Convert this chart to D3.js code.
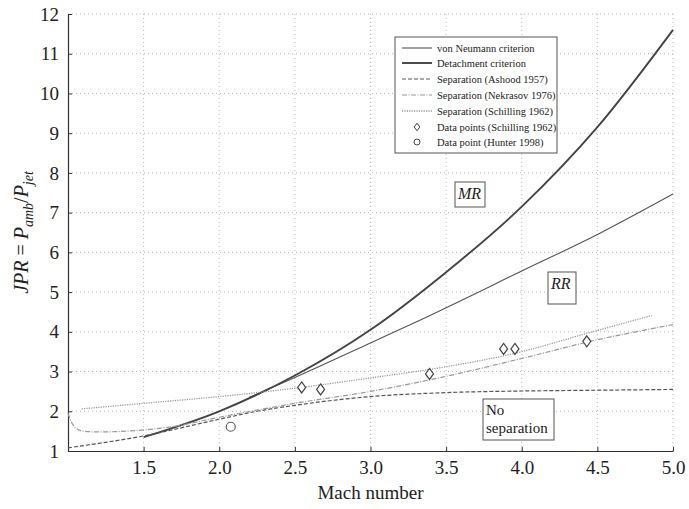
<!DOCTYPE html>
<html>
<head>
<meta charset="utf-8">
<script src="https://cdn.jsdelivr.net/npm/d3@7"></script>
<style>
  body { margin: 0; background: #fff; }
  svg text { font-family: "Liberation Serif", "Times New Roman", Times, "DejaVu Serif", serif !important; }
</style>
</head>
<body>
<svg id="chart" width="689" height="509"></svg>
<script>
// Curve data (Mach number, JPR)
const vonNeumannX = [2.2, 2.5, 3.0, 3.33, 4.0, 4.52, 5.0];
const vonNeumannY = [2.35, 2.85, 3.72, 4.30, 5.53, 6.49, 7.47];

const detachmentX = [1.5, 2.0, 2.5, 3.0, 3.5, 4.0, 4.5, 5.0];
const detachmentY = [1.35, 2.0, 2.9, 4.05, 5.5, 7.15, 9.15, 11.6];

const ashoodX = [1.0, 1.5, 2.0, 2.25, 2.5, 3.0, 3.5, 4.0, 4.5, 5.0];
const ashoodY = [1.08, 1.38, 1.8, 2.0, 2.15, 2.37, 2.47, 2.51, 2.53, 2.55];

const nekrasovX = [1.0, 1.02, 1.05, 1.1, 1.2, 1.5, 1.7, 2.0, 2.25, 2.5, 3.0, 3.5, 4.0, 4.5, 5.0];
const nekrasovY = [1.95, 1.75, 1.58, 1.5, 1.48, 1.53, 1.62, 1.85, 2.03, 2.2, 2.5, 2.88, 3.33, 3.8, 4.18];

const schillingX = [1.09, 1.5, 2.0, 2.5, 3.0, 3.5, 4.0, 4.43, 4.86];
const schillingY = [2.06, 2.2, 2.37, 2.58, 2.84, 3.12, 3.5, 3.96, 4.41];

const schillingPtsX = [2.545, 2.67, 3.39, 3.88, 3.955, 4.43];
const schillingPtsY = [2.60, 2.55, 2.94, 3.57, 3.57, 3.76];

const hunterPtsX = [2.076];
const hunterPtsY = [1.61];

const xTicks = [1.5, 2.0, 2.5, 3.0, 3.5, 4.0, 4.5, 5.0];
const yTicks = [1, 2, 3, 4, 5, 6, 7, 8, 9, 10, 11, 12];

const legendLabels = [
  "von Neumann criterion",
  "Detachment criterion",
  "Separation (Ashood 1957)",
  "Separation (Nekrasov 1976)",
  "Separation (Schilling 1962)",
  "Data points (Schilling 1962)",
  "Data point (Hunter 1998)"
];

// layout
const svg = d3.select("#chart");
const margin = { left: 68, right: 16, top: 14, bottom: 58 };
const W = 689, H = 509;

const x = d3.scaleLinear().domain([1, 5]).range([margin.left, W - margin.right]);
const y = d3.scaleLinear().domain([1, 12]).range([H - margin.bottom, margin.top]);

// grid
const grid = svg.append("g").attr("class", "grid");
grid.selectAll("line.vx")
  .data(xTicks)
  .enter().append("line")
  .attr("x1", d => x(d)).attr("x2", d => x(d))
  .attr("y1", y(1)).attr("y2", y(12))
  .attr("stroke", "#b8b8b8").attr("stroke-width", 1)
  .attr("stroke-dasharray", "1,3");
grid.selectAll("line.hy")
  .data(yTicks.slice(1))
  .enter().append("line")
  .attr("x1", x(1)).attr("x2", x(5))
  .attr("y1", d => y(d)).attr("y2", d => y(d))
  .attr("stroke", "#b8b8b8").attr("stroke-width", 1)
  .attr("stroke-dasharray", "1,3");

// axes
const xAxis = d3.axisBottom(x).tickValues(xTicks).tickFormat(d3.format(".1f"))
  .tickSizeInner(-4).tickSizeOuter(0).tickPadding(10);
const yAxis = d3.axisLeft(y).tickValues(yTicks).tickFormat(d3.format("d"))
  .tickSizeInner(-4).tickSizeOuter(0).tickPadding(9);

const gx = svg.append("g").attr("transform", `translate(0,${y(1)})`).call(xAxis);
const gy = svg.append("g").attr("transform", `translate(${x(1)},0)`).call(yAxis);
[gx, gy].forEach(g => {
  g.attr("font-family", null);
  g.select(".domain").attr("stroke", "#333").attr("stroke-width", 1.2);
  g.selectAll(".tick line").attr("stroke", "#333");
  g.selectAll(".tick text")
    .attr("fill", "#222")
    .style("font-size", "19px");
});

// axis titles
svg.append("text")
  .attr("x", (x(1) + x(5)) / 2)
  .attr("y", 499)
  .attr("text-anchor", "middle")
  .attr("fill", "#222")
  .style("font-size", "19px")
  .text("Mach number");

const yl = svg.append("text")
  .attr("transform", `translate(28,${(y(1) + y(12)) / 2}) rotate(-90)`)
  .attr("text-anchor", "middle")
  .attr("fill", "#222")
  .style("font-size", "20px");
yl.append("tspan").style("font-style", "italic").text("JPR");
yl.append("tspan").text(" = ");
yl.append("tspan").style("font-style", "italic").text("P");
yl.append("tspan").style("font-style", "italic").style("font-size", "14px").attr("dy", 5).text("amb");
yl.append("tspan").attr("dy", -5).text("/");
yl.append("tspan").style("font-style", "italic").text("P");
yl.append("tspan").style("font-style", "italic").style("font-size", "14px").attr("dy", 5).text("jet");

// curves
const series = [
  { xs: vonNeumannX, ys: vonNeumannY, color: "#555", width: 1.1, dash: null },
  { xs: detachmentX, ys: detachmentY, color: "#444", width: 1.9, dash: null },
  { xs: ashoodX, ys: ashoodY, color: "#555", width: 1.2, dash: "4,2" },
  { xs: nekrasovX, ys: nekrasovY, color: "#999", width: 1.2, dash: "5,1.5,1,1.5" },
  { xs: schillingX, ys: schillingY, color: "#999", width: 1.3, dash: "1.2,1.2" }
];

const line = d3.line()
  .x(d => x(d[0]))
  .y(d => y(d[1]))
  .curve(d3.curveMonotoneX);

const plot = svg.append("g");
series.forEach(s => {
  plot.append("path")
    .datum(s.xs.map((v, i) => [v, s.ys[i]]))
    .attr("fill", "none")
    .attr("stroke", s.color)
    .attr("stroke-width", s.width)
    .attr("stroke-dasharray", s.dash)
    .attr("d", line);
});

// data points
const diamondPath = (w, h) => `M0,${-h}L${w},0L0,${h}L${-w},0Z`;
plot.selectAll("path.pt")
  .data(schillingPtsX.map((v, i) => [v, schillingPtsY[i]]))
  .enter().append("path")
  .attr("d", diamondPath(4, 5.5))
  .attr("transform", d => `translate(${x(d[0])},${y(d[1])})`)
  .attr("fill", "#fff").attr("stroke", "#444").attr("stroke-width", 1.2);

plot.selectAll("circle.hp")
  .data(hunterPtsX.map((v, i) => [v, hunterPtsY[i]]))
  .enter().append("circle")
  .attr("cx", d => x(d[0])).attr("cy", d => y(d[1]))
  .attr("r", 4.5)
  .attr("fill", "#fff").attr("stroke", "#555").attr("stroke-width", 1.1);

// region labels
function boxLabel(cx, cy, w, h, lines, italic, fs) {
  const g = svg.append("g");
  g.append("rect")
    .attr("x", cx).attr("y", cy).attr("width", w).attr("height", h)
    .attr("fill", "#fff").attr("stroke", "#555").attr("stroke-width", 1);
  lines.forEach((t, i) => {
    g.append("text")
      .attr("x", cx + 3).attr("y", cy + fs + 1 + i * (fs + 3))
      .attr("fill", "#222")
      .style("font-size", fs + "px")
      .style("font-style", italic ? "italic" : "normal")
      .text(t);
  });
}
boxLabel(455, 182, 30, 25, ["MR"], true, 16);
boxLabel(548, 272, 28, 32, ["RR"], true, 16);
boxLabel(483, 399, 71, 41, ["No", "separation"], false, 15);

// legend
const lg = svg.append("g");
lg.append("rect")
  .attr("x", 395).attr("y", 37).attr("width", 162).attr("height", 116)
  .attr("fill", "#fff").attr("stroke", "#555").attr("stroke-width", 1);

const rowY = [48, 63, 79, 95, 111, 127, 142];
legendLabels.forEach((lab, i) => {
  const yy = rowY[i];
  if (i < 5) {
    const s = series[i];
    lg.append("line")
      .attr("x1", 402).attr("x2", 432).attr("y1", yy).attr("y2", yy)
      .attr("stroke", s.color).attr("stroke-width", s.width)
      .attr("stroke-dasharray", s.dash);
  } else if (i === 5) {
    lg.append("path")
      .attr("d", diamondPath(2.8, 3.8))
      .attr("transform", `translate(417,${yy})`)
      .attr("fill", "#fff").attr("stroke", "#444").attr("stroke-width", 1);
  } else {
    lg.append("circle")
      .attr("cx", 417).attr("cy", yy).attr("r", 3)
      .attr("fill", "#fff").attr("stroke", "#444").attr("stroke-width", 1);
  }
  lg.append("text")
    .attr("x", 437).attr("y", yy + 3.5)
    .attr("fill", "#222")
    .style("font-size", "10.5px")
    .text(lab);
});
</script>
</body>
</html>
